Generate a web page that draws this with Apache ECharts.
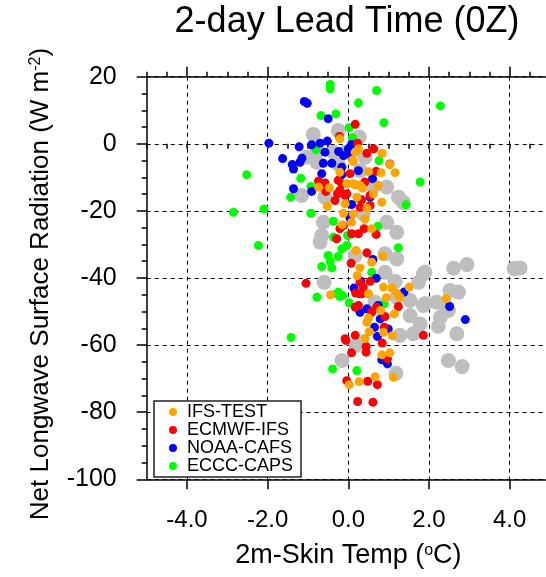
<!DOCTYPE html>
<html>
<head>
<meta charset="utf-8">
<script src="https://cdn.jsdelivr.net/npm/echarts@6/dist/echarts.min.js"></script>
<style>
  * { margin: 0; padding: 0; }
  body { background: #fff; }
  #chart { width: 546px; height: 577px; }
</style>
</head>
<body>
<div id="chart"></div>
<script>
// [2m-skin temp (C), net LW radiation (W m-2)]
const ifsTest = [
  [-0.21, 1.5], [0.25, -1.5], [0.84, -2.8], [0.17, -2.5], [0.11, -4.8], [1.03, -6.2], [0.50, -8.3],
  [0.81, -8.6], [-0.74, -12.9], [-0.47, -13.1], [0.17, -12.2], [0.35, -13.2], [-0.21, -8.5], [1.16, -8.6],
  [0.12, -5.3], [0.12, -11.9], [-0.04, -11.9], [0.29, -12.4], [0.74, -12.4], [0.62, -14.9], [0.83, -17.4],
  [0.21, -15.9], [-0.08, -17.9], [-0.52, -18.6], [0.46, -19.2], [-0.12, -20.7], [0.12, -20.9], [0.41, -22.4],
  [0.08, -23.4], [0.58, -25.3], [-0.15, -24.1], [0.19, -31.8], [0.85, -33.5], [0.29, -37.0], [0.58, -35.3],
  [0.22, -39.3], [0.87, -42.7], [1.08, -43.0], [0.50, -44.7], [0.94, -45.9], [1.20, -44.5], [1.28, -45.7],
  [1.51, -42.7], [-0.44, -45.0], [0.80, -49.7], [1.14, -50.7], [0.50, -51.9], [2.43, -46.1], [0.46, -53.2],
  [0.52, -56.0], [0.41, -58.0], [0.87, -56.2], [1.09, -57.2], [0.83, -62.9], [1.03, -62.3], [0.02, -71.8],
  [0.27, -70.9], [0.66, -69.4], [1.12, -69.6]
];
const ecmwfIfs = [
  [0.17, 5.8], [-0.22, 2.2], [0.23, 0.2], [0.63, -1.5], [0.46, -2.8], [1.03, -6.0], [0.69, -8.2],
  [-0.74, -11.1], [-0.56, -14.2], [-0.25, -10.9], [0.41, -11.4], [-0.27, -14.9], [-0.08, -15.4], [0.04, -8.9],
  [-0.16, -11.9], [-0.58, -11.7], [-0.21, -13.9], [-0.33, -16.9], [-0.04, -14.9], [0.33, -16.7], [0.54, -15.4],
  [0.29, -18.9], [0.54, -18.4], [-0.21, -25.3], [-0.12, -24.4], [0.25, -26.8], [0.39, -25.3], [0.69, -27.0],
  [0.08, -26.8], [-0.29, -28.3], [0.46, -32.5], [0.07, -35.6], [-1.05, -41.6], [0.29, -41.3], [0.37, -42.7],
  [0.54, -41.0], [0.18, -44.5], [0.33, -44.7], [0.25, -48.2], [0.17, -48.7], [0.70, -48.7], [0.58, -50.2],
  [0.91, -51.5], [1.24, -48.5], [1.86, -57.1], [-0.08, -58.1], [0.17, -57.1], [-0.06, -58.6], [0.08, -62.3],
  [0.44, -60.4], [0.44, -62.1], [0.84, -59.4], [0.89, -54.7], [0.97, -64.1], [-0.04, -70.6], [0.48, -70.8],
  [0.72, -71.8], [0.23, -76.8], [0.61, -77.0]
];
const noaaCafs = [
  [-1.09, 12.6], [-1.02, 12.1], [-0.50, 7.5], [-1.97, 0.2], [-1.22, -0.9], [-0.91, -0.3], [-0.70, 0.2],
  [-0.52, 0.8], [0.08, -0.2], [-1.63, -4.4], [-1.15, -4.3], [-0.58, -2.5], [-0.24, -2.3], [0.00, -1.5],
  [0.04, -3.0], [-0.12, -3.5], [-1.39, -6.2], [-1.36, -7.5], [-1.20, -5.5], [-0.66, -8.9], [-1.36, -13.4],
  [-0.91, -14.2], [-0.16, -9.2], [0.60, -10.4], [0.54, -15.9], [-0.62, -5.8], [-0.41, -5.8], [-0.16, -7.0],
  [0.25, -8.0], [0.08, -18.1], [0.04, -22.1], [0.61, -34.5], [0.69, -40.1], [0.31, -41.0], [0.14, -43.0],
  [0.29, -44.7], [1.38, -44.2], [0.74, -48.2], [0.46, -49.2], [0.29, -50.2], [0.79, -52.2], [2.51, -48.5],
  [2.90, -52.4], [0.65, -54.7], [0.72, -57.4], [0.99, -55.2], [0.83, -64.4], [0.97, -65.6]
];
const ecccCaps = [
  [-0.45, 17.7], [-0.45, 16.4], [0.70, 15.9], [0.25, 12.2], [2.28, 11.3], [-0.68, 8.4], [-0.31, 8.9],
  [0.88, 6.3], [0.02, 4.8], [0.10, 1.8], [-0.80, -1.8], [0.76, -5.0], [-2.52, -9.2], [-1.18, -10.3],
  [-0.93, -12.7], [1.78, -11.4], [-1.43, -15.9], [0.25, -16.4], [1.43, -18.2], [-0.93, -20.7], [-0.37, -23.1],
  [0.73, -24.6], [-0.02, -27.3], [-0.37, -27.8], [-2.85, -20.4], [-2.09, -19.4], [-2.23, -30.3], [1.24, -31.0],
  [-0.50, -33.3], [-0.45, -35.0], [-0.66, -36.6], [-0.41, -37.0], [-0.25, -33.6], [-0.16, -31.3], [-0.04, -30.3],
  [0.58, -38.3], [-0.78, -45.7], [-0.25, -44.2], [-0.14, -45.2], [-0.21, -45.5], [-0.29, -44.7], [0.02, -47.4],
  [0.89, -47.7], [-1.42, -57.7], [-0.39, -67.1], [0.21, -67.6]
];
// large grey background points (no legend entry)
const greyPts = [
  [-0.87, 2.8], [-0.25, 4.0], [0.27, 2.0], [-0.08, -2.5], [-0.78, -2.2], [-1.03, -4.0], [-0.37, -2.5],
  [0.41, -4.0], [0.95, -12.9], [-1.16, -15.4], [0.62, -12.9], [1.36, -17.4], [-0.58, -15.9], [1.24, -15.9],
  [-0.62, -23.4], [0.95, -23.4], [1.20, -26.4], [-0.66, -27.3], [0.37, -20.9], [-0.25, -6.0], [-0.78, -5.5],
  [0.29, -8.0], [-0.60, -41.3], [0.91, -32.8], [1.20, -34.3], [0.91, -38.3], [1.16, -41.0], [1.20, -45.7],
  [1.53, -46.7], [1.86, -38.8], [1.74, -41.3], [1.90, -47.7], [1.53, -51.2], [2.40, -48.2], [2.48, -49.7],
  [0.66, -47.2], [0.17, -33.3], [-0.70, -29.3], [2.61, -37.1], [2.94, -36.0], [4.26, -37.0], [4.11, -37.2],
  [1.90, -38.3], [2.52, -43.7], [2.73, -44.2], [2.19, -47.2], [2.28, -51.7], [1.78, -53.7], [2.69, -56.6],
  [1.86, -48.2], [0.19, -60.1], [-0.16, -64.6], [1.18, -68.4], [2.48, -64.6], [1.28, -57.1], [2.23, -54.4],
  [1.61, -56.6], [2.82, -66.4]
];
const xMajor = [-4, -2, 0, 2, 4];
const legendNames = ['IFS-TEST', 'ECMWF-IFS', 'NOAA-CAFS', 'ECCC-CAPS'];

const FONT = "'Liberation Sans', Arial, sans-serif";
const axisLine = { lineStyle: { color: '#000', width: 1.5 } };
const dashed = { show: true, lineStyle: { color: '#000', width: 1, type: [4, 4] } };

function majorX(pos, withLabels) {
  return {
    type: 'value', min: -5, max: 5, position: pos, gridIndex: 0,
    axisLine: { show: true, onZero: false, lineStyle: axisLine.lineStyle },
    axisTick: { show: true, customValues: xMajor, length: 10, lineStyle: { color: '#000', width: 1.5 } },
    axisLabel: withLabels
      ? { customValues: xMajor, formatter: v => v.toFixed(1), fontSize: 24, color: '#000', fontFamily: FONT, margin: 29 }
      : { show: false },
    splitLine: withLabels ? dashed : { show: false }
  };
}
function minorX(pos) {
  return {
    type: 'value', min: -5, max: 5, interval: 0.5, position: pos, gridIndex: 0,
    axisLine: { show: false },
    axisTick: { show: true, length: 5, lineStyle: { color: '#000', width: 1.5 } },
    axisLabel: { show: false },
    splitLine: { show: false }
  };
}

const xMain = majorX('bottom', true);
xMain.name = '{a|2m-Skin Temp (}{s|o}{a|C)}';
xMain.nameLocation = 'middle';
xMain.nameGap = 63;
xMain.nameTextStyle = {
  rich: {
    a: { fontSize: 27, color: '#000', fontFamily: FONT },
    s: { fontSize: 16, color: '#000', fontFamily: FONT, verticalAlign: 'bottom', padding: [0, 0, 11, 0] }
  }
};

function scatter(name, data, color, size) {
  return {
    name, type: 'scatter', data, symbol: 'circle', symbolSize: size,
    itemStyle: { color, opacity: 1 },
    emphasis: { disabled: true }, silent: true
  };
}

const chart = echarts.init(document.getElementById('chart'));
chart.setOption({
  animation: false,
  backgroundColor: '#fff',
  grid: { left: 146.7, right: -4, top: 76.7, bottom: 97.7, containLabel: false, outerBoundsMode: 'none' },
  graphic: [{
    type: 'text', x: 347, y: 4,
    style: { text: '2-day Lead Time (0Z)', fill: '#000', font: '36px ' + FONT, textAlign: 'center', textVerticalAlign: 'top' }
  }],
  legend: {
    data: legendNames, orient: 'vertical', left: 154, top: 401,
    icon: 'circle', itemWidth: 18, itemHeight: 8, itemGap: 0,
    padding: [2, 8, 2, 15],
    borderColor: '#222', borderWidth: 1.5, backgroundColor: '#fff',
    textStyle: { fontSize: 18, lineHeight: 17, color: '#000', fontFamily: FONT }
  },
  xAxis: [xMain, minorX('bottom'), majorX('top', false), minorX('top')],
  yAxis: {
    type: 'value', min: -100, max: 20, interval: 20,
    axisLine: { show: true, onZero: false, lineStyle: axisLine.lineStyle },
    axisTick: { show: true, length: 10, lineStyle: { color: '#000', width: 1.5 } },
    minorTick: { show: true, splitNumber: 4, length: 5, lineStyle: { color: '#000', width: 1.5 } },
    axisLabel: { fontSize: 25, color: '#000', fontFamily: FONT, margin: 30 },
    splitLine: dashed,
    name: '{a|Net Longwave Surface Radiation (W m}{s|-2}{a|)}',
    nameLocation: 'middle', nameGap: 92,
    nameTextStyle: {
      padding: [0, 12, 0, 0],
      rich: {
        a: { fontSize: 26, color: '#000', fontFamily: FONT },
        s: { fontSize: 16, color: '#000', fontFamily: FONT, verticalAlign: 'bottom', padding: [0, 0, 11, 0] }
      }
    }
  },
  series: [
    scatter('OBS', greyPts, '#bebebe', 15),
    scatter('ECCC-CAPS', ecccCaps, '#00ff00', 9),
    scatter('NOAA-CAFS', noaaCafs, '#0000ff', 9),
    scatter('ECMWF-IFS', ecmwfIfs, '#ff0000', 9),
    scatter('IFS-TEST', ifsTest, '#ffa500', 9)
  ]
});
</script>
</body>
</html>
